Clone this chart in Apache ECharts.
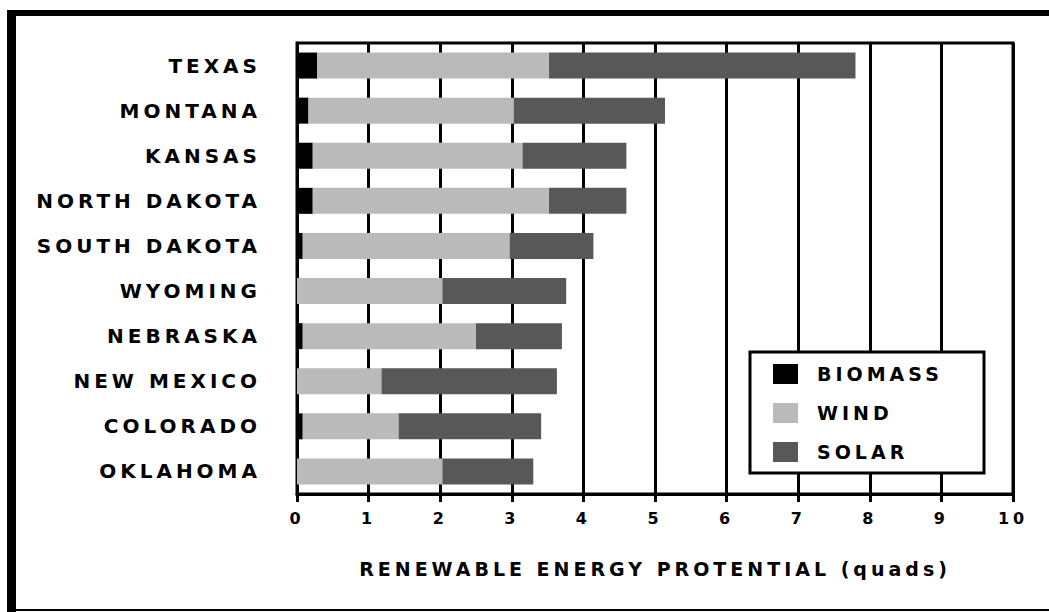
<!DOCTYPE html>
<html>
<head>
<meta charset="utf-8">
<script src="https://cdn.jsdelivr.net/npm/echarts@6/dist/echarts.min.js"></script>
<style>
  html, body { margin: 0; padding: 0; background: #fff; }
  #main { width: 1049px; height: 612px; }
  /* the original lettering is set very wide */
  #main text { letter-spacing: 4px; }
</style>
</head>
<body>
<div id="main"></div>
<script>
// states, top to bottom
const states = ['TEXAS', 'MONTANA', 'KANSAS', 'NORTH DAKOTA', 'SOUTH DAKOTA',
  'WYOMING', 'NEBRASKA', 'NEW MEXICO', 'COLORADO', 'OKLAHOMA'];

// quads, stacked: biomass + wind + solar
const biomass = [0.28, 0.16, 0.22, 0.22, 0.08, 0, 0.08, 0, 0.08, 0];
const wind = [3.24, 2.87, 2.93, 3.30, 2.89, 2.03, 2.42, 1.18, 1.34, 2.03];
const solar = [4.28, 2.11, 1.45, 1.08, 1.17, 1.73, 1.20, 2.45, 1.99, 1.27];

const xTicks = [0, 1, 2, 3, 4, 5, 6, 7, 8, 9, 10];

const font = 'DejaVu Sans';

const chart = echarts.init(document.getElementById('main'), null, { renderer: 'svg' });

const option = {
  animation: false,
  backgroundColor: '#fff',
  textStyle: { fontFamily: font },
  grid: {
    left: 297, right: 36, top: 43, bottom: 118,
    show: true, borderColor: '#000', borderWidth: 3, backgroundColor: 'transparent'
  },
  legend: {
    orient: 'vertical',
    left: 773, top: 364,
    z: 120,
    itemWidth: 25, itemHeight: 20, itemGap: 19,
    padding: 0,
    icon: 'rect',
    data: ['BIOMASS', 'WIND', 'SOLAR'],
    textStyle: { fontFamily: font, fontSize: 19, fontWeight: 'bold', color: '#000', padding: [0, 0, 0, 14] }
  },
  xAxis: {
    type: 'value',
    min: xTicks[0], max: xTicks[xTicks.length - 1], interval: 1,
    name: 'RENEWABLE ENERGY PROTENTIAL (quads)',
    nameLocation: 'middle', nameGap: 65,
    nameTextStyle: { fontFamily: font, fontSize: 19, fontWeight: 'bold', color: '#000' },
    axisLine: { show: true, lineStyle: { color: '#000', width: 3 } },
    axisTick: { show: true, length: 8, lineStyle: { color: '#000', width: 3 } },
    axisLabel: { margin: 16, fontFamily: font, fontSize: 16, fontWeight: 'bold', color: '#000' },
    splitLine: { show: true, lineStyle: { color: '#000', width: 3 } }
  },
  yAxis: {
    type: 'category',
    data: states,
    inverse: true,
    axisLine: { show: true, lineStyle: { color: '#000', width: 3 } },
    axisTick: { show: false },
    axisLabel: { margin: 36, fontFamily: font, fontSize: 20, fontWeight: 'bold', color: '#000', padding: [0, 0, 5, 0] }
  },
  series: [
    { name: 'BIOMASS', type: 'bar', stack: 'q', barWidth: 26, data: biomass, itemStyle: { color: '#000' } },
    { name: 'WIND', type: 'bar', stack: 'q', barWidth: 26, data: wind, itemStyle: { color: '#bababa' } },
    { name: 'SOLAR', type: 'bar', stack: 'q', barWidth: 26, data: solar, itemStyle: { color: '#585858' } }
  ],
  graphic: [
    // outer frame
    { type: 'rect', shape: { x: 7, y: 10, width: 1042, height: 6 }, style: { fill: '#000' } },
    { type: 'rect', shape: { x: 7, y: 10, width: 9, height: 602 }, style: { fill: '#000' } },
    { type: 'rect', shape: { x: 7, y: 609, width: 1042, height: 2 }, style: { fill: '#000' } },
    // legend box
    { type: 'rect', z: 100, shape: { x: 750, y: 352, width: 234, height: 121 },
      style: { fill: 'none', stroke: '#000', lineWidth: 3 } },
    { type: 'rect', z: 99, shape: { x: 751, y: 353, width: 232, height: 119 },
      style: { fill: '#fff' } }
  ]
};

chart.setOption(option);
</script>
</body>
</html>
